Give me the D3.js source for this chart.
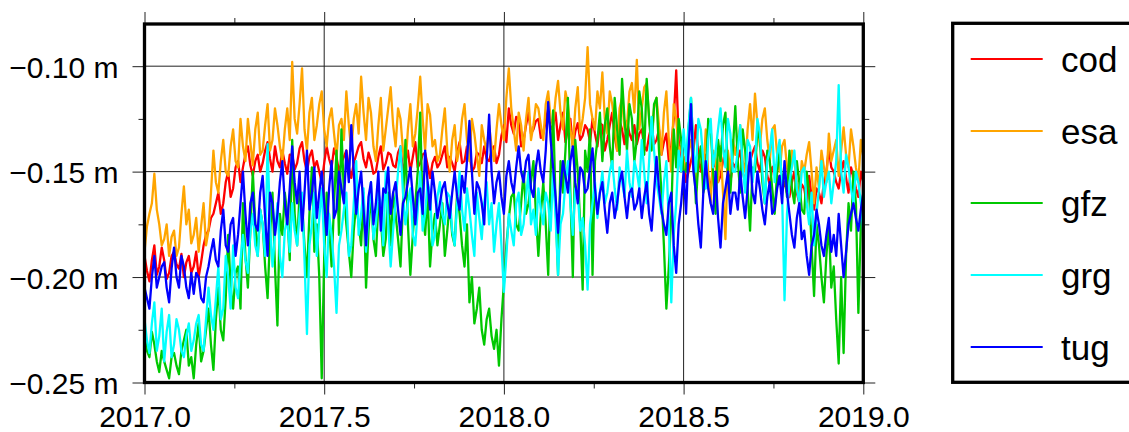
<!DOCTYPE html>
<html>
<head>
<meta charset="utf-8">
<script src="https://cdn.jsdelivr.net/npm/d3@7"></script>
<style>
  html, body { margin: 0; padding: 0; background: #fff; }
  svg { display: block; }
  text { font-family: "Liberation Sans", Arial, Helvetica, sans-serif; fill: #000; }
</style>
</head>
<body>
<svg id="chart" width="1129" height="432"></svg>
<script>
// ---- data, one value every 2.5 days from 2017.0 to 2019.0 ----
const startYear = 2017.0;
const stepDays = 2.5;

const seriesNames = ["cod", "esa", "gfz", "grg", "tug"];
const seriesColors = ["#ff0000", "#ffa500", "#00c800", "#00ffff", "#0000ff"];

const cod = [
  -0.190,-0.197,-0.202,-0.192,-0.185,-0.199,-0.195,-0.186,-0.192,-0.201,-0.198,-0.190,-0.188,-0.194,-0.196,-0.189,-0.200,-0.193,-0.190,-0.198,
  -0.195,-0.188,-0.200,-0.193,-0.185,-0.180,-0.178,-0.172,-0.170,-0.165,-0.160,-0.170,-0.165,-0.155,-0.150,-0.162,-0.158,-0.148,-0.145,-0.155,
  -0.148,-0.142,-0.138,-0.147,-0.152,-0.145,-0.142,-0.150,-0.146,-0.140,-0.136,-0.144,-0.150,-0.138,-0.145,-0.148,-0.140,-0.146,-0.151,-0.142,
  -0.142,-0.149,-0.146,-0.139,-0.136,-0.145,-0.150,-0.143,-0.140,-0.148,-0.145,-0.150,-0.155,-0.146,-0.138,-0.144,-0.148,-0.139,-0.143,-0.150,
  -0.146,-0.143,-0.140,-0.148,-0.153,-0.146,-0.142,-0.138,-0.136,-0.144,-0.148,-0.141,-0.145,-0.151,-0.150,-0.143,-0.138,-0.149,-0.146,-0.141,
  -0.142,-0.147,-0.148,-0.141,-0.138,-0.150,-0.145,-0.140,-0.150,-0.143,-0.136,-0.148,-0.146,-0.142,-0.141,-0.147,-0.153,-0.146,-0.143,-0.148,
  -0.146,-0.142,-0.138,-0.148,-0.143,-0.146,-0.150,-0.141,-0.136,-0.146,-0.145,-0.138,-0.140,-0.150,-0.148,-0.141,-0.142,-0.146,-0.138,-0.144,
  -0.145,-0.140,-0.138,-0.146,-0.142,-0.133,-0.128,-0.136,-0.120,-0.128,-0.132,-0.124,-0.125,-0.138,-0.135,-0.128,-0.122,-0.132,-0.130,-0.126,
  -0.125,-0.134,-0.132,-0.126,-0.120,-0.130,-0.128,-0.122,-0.135,-0.128,-0.122,-0.136,-0.130,-0.125,-0.138,-0.131,-0.127,-0.135,-0.133,-0.128,
  -0.130,-0.136,-0.125,-0.132,-0.138,-0.127,-0.128,-0.140,-0.135,-0.128,-0.122,-0.133,-0.140,-0.126,-0.130,-0.137,-0.126,-0.132,-0.135,-0.128,
  -0.137,-0.132,-0.130,-0.138,-0.140,-0.133,-0.128,-0.137,-0.135,-0.130,-0.142,-0.136,-0.132,-0.145,-0.138,-0.125,-0.102,-0.135,-0.150,-0.143,
  -0.155,-0.150,-0.145,-0.140,-0.128,-0.142,-0.150,-0.146,-0.142,-0.153,-0.158,-0.148,-0.146,-0.155,-0.152,-0.145,-0.140,-0.150,-0.155,-0.146,
  -0.148,-0.144,-0.140,-0.150,-0.155,-0.148,-0.145,-0.141,-0.138,-0.146,-0.150,-0.140,-0.143,-0.152,-0.156,-0.148,-0.147,-0.155,-0.152,-0.158,
  -0.155,-0.160,-0.162,-0.155,-0.150,-0.160,-0.165,-0.156,-0.158,-0.165,-0.152,-0.162,-0.168,-0.158,-0.160,-0.165,-0.155,-0.150,-0.139,-0.148,
  -0.150,-0.155,-0.158,-0.150,-0.145,-0.153,-0.160,-0.148,-0.152,-0.158,-0.162,-0.150,-0.155
];

const esa = [
  -0.188,-0.176,-0.170,-0.165,-0.151,-0.168,-0.175,-0.185,-0.182,-0.175,-0.190,-0.181,-0.178,-0.190,-0.186,-0.170,-0.157,-0.175,-0.168,-0.184,
  -0.180,-0.172,-0.188,-0.176,-0.165,-0.185,-0.178,-0.160,-0.140,-0.155,-0.160,-0.145,-0.135,-0.150,-0.152,-0.138,-0.130,-0.145,-0.148,-0.125,
  -0.138,-0.145,-0.125,-0.136,-0.147,-0.130,-0.122,-0.142,-0.140,-0.128,-0.118,-0.140,-0.135,-0.120,-0.128,-0.138,-0.145,-0.130,-0.120,-0.135,
  -0.098,-0.125,-0.132,-0.118,-0.101,-0.130,-0.140,-0.122,-0.115,-0.135,-0.128,-0.118,-0.112,-0.130,-0.138,-0.125,-0.120,-0.132,-0.143,-0.128,
  -0.125,-0.135,-0.112,-0.128,-0.140,-0.125,-0.118,-0.132,-0.105,-0.122,-0.135,-0.115,-0.122,-0.138,-0.145,-0.128,-0.115,-0.140,-0.130,-0.120,
  -0.110,-0.128,-0.138,-0.120,-0.125,-0.140,-0.148,-0.130,-0.118,-0.138,-0.132,-0.120,-0.105,-0.125,-0.140,-0.118,-0.123,-0.138,-0.135,-0.145,
  -0.142,-0.130,-0.120,-0.140,-0.150,-0.135,-0.128,-0.145,-0.138,-0.125,-0.118,-0.135,-0.145,-0.125,-0.132,-0.142,-0.152,-0.128,-0.135,-0.140,
  -0.128,-0.138,-0.145,-0.130,-0.118,-0.128,-0.135,-0.115,-0.101,-0.120,-0.130,-0.140,-0.122,-0.128,-0.140,-0.125,-0.115,-0.135,-0.128,-0.118,
  -0.120,-0.128,-0.135,-0.118,-0.112,-0.125,-0.128,-0.115,-0.107,-0.122,-0.130,-0.112,-0.118,-0.130,-0.138,-0.120,-0.110,-0.132,-0.125,-0.115,
  -0.091,-0.118,-0.125,-0.130,-0.112,-0.120,-0.103,-0.125,-0.132,-0.112,-0.118,-0.128,-0.140,-0.120,-0.115,-0.130,-0.128,-0.112,-0.108,-0.122,
  -0.097,-0.130,-0.120,-0.110,-0.108,-0.125,-0.135,-0.120,-0.115,-0.128,-0.142,-0.122,-0.112,-0.135,-0.150,-0.118,-0.125,-0.140,-0.138,-0.145,
  -0.150,-0.140,-0.135,-0.148,-0.158,-0.145,-0.140,-0.152,-0.130,-0.150,-0.165,-0.140,-0.145,-0.155,-0.138,-0.160,-0.182,-0.140,-0.150,-0.135,
  -0.142,-0.135,-0.128,-0.145,-0.150,-0.130,-0.118,-0.135,-0.113,-0.128,-0.138,-0.125,-0.120,-0.135,-0.145,-0.130,-0.128,-0.142,-0.150,-0.138,
  -0.135,-0.148,-0.155,-0.140,-0.145,-0.155,-0.162,-0.145,-0.150,-0.142,-0.136,-0.150,-0.165,-0.148,-0.158,-0.140,-0.148,-0.155,-0.132,-0.145,
  -0.140,-0.135,-0.152,-0.140,-0.129,-0.142,-0.148,-0.130,-0.138,-0.148,-0.155,-0.135,-0.143
];

const gfz = [
  -0.228,-0.235,-0.238,-0.226,-0.232,-0.240,-0.245,-0.235,-0.240,-0.244,-0.248,-0.238,-0.236,-0.242,-0.246,-0.235,-0.230,-0.225,-0.242,-0.238,
  -0.248,-0.232,-0.222,-0.240,-0.235,-0.225,-0.215,-0.232,-0.244,-0.220,-0.205,-0.225,-0.230,-0.210,-0.180,-0.205,-0.215,-0.198,-0.195,-0.215,
  -0.165,-0.190,-0.205,-0.178,-0.150,-0.175,-0.190,-0.168,-0.175,-0.195,-0.210,-0.180,-0.160,-0.195,-0.223,-0.170,-0.180,-0.160,-0.170,-0.192,
  -0.135,-0.170,-0.185,-0.160,-0.165,-0.185,-0.200,-0.170,-0.148,-0.188,-0.175,-0.200,-0.248,-0.190,-0.160,-0.175,-0.195,-0.165,-0.140,-0.180,
  -0.130,-0.160,-0.175,-0.188,-0.200,-0.178,-0.165,-0.175,-0.185,-0.160,-0.205,-0.178,-0.160,-0.182,-0.190,-0.165,-0.172,-0.190,-0.182,-0.160,
  -0.185,-0.160,-0.170,-0.182,-0.195,-0.165,-0.135,-0.175,-0.199,-0.180,-0.165,-0.150,-0.122,-0.170,-0.180,-0.160,-0.195,-0.178,-0.170,-0.185,
  -0.175,-0.165,-0.190,-0.178,-0.165,-0.180,-0.185,-0.160,-0.170,-0.185,-0.195,-0.175,-0.212,-0.200,-0.222,-0.215,-0.205,-0.225,-0.232,-0.220,
  -0.215,-0.228,-0.234,-0.225,-0.242,-0.220,-0.203,-0.185,-0.172,-0.162,-0.160,-0.175,-0.178,-0.165,-0.150,-0.170,-0.165,-0.155,-0.145,-0.170,
  -0.190,-0.170,-0.155,-0.175,-0.199,-0.150,-0.121,-0.165,-0.199,-0.145,-0.160,-0.140,-0.115,-0.160,-0.200,-0.135,-0.150,-0.175,-0.206,-0.140,
  -0.150,-0.130,-0.199,-0.145,-0.135,-0.122,-0.145,-0.128,-0.120,-0.138,-0.148,-0.115,-0.130,-0.142,-0.106,-0.125,-0.140,-0.118,-0.125,-0.145,
  -0.135,-0.112,-0.120,-0.142,-0.106,-0.125,-0.140,-0.118,-0.115,-0.140,-0.160,-0.185,-0.215,-0.195,-0.170,-0.130,-0.148,-0.125,-0.135,-0.150,
  -0.150,-0.130,-0.115,-0.140,-0.165,-0.145,-0.138,-0.160,-0.155,-0.125,-0.130,-0.150,-0.170,-0.135,-0.145,-0.128,-0.122,-0.150,-0.160,-0.140,
  -0.119,-0.145,-0.160,-0.130,-0.140,-0.158,-0.178,-0.148,-0.150,-0.130,-0.135,-0.155,-0.165,-0.140,-0.145,-0.158,-0.170,-0.150,-0.140,-0.155,
  -0.150,-0.162,-0.140,-0.158,-0.165,-0.145,-0.155,-0.168,-0.170,-0.150,-0.160,-0.185,-0.209,-0.175,-0.185,-0.200,-0.212,-0.190,-0.175,-0.205,
  -0.195,-0.220,-0.241,-0.200,-0.236,-0.190,-0.165,-0.178,-0.150,-0.165,-0.217,-0.175,-0.160
];

const grg = [
  -0.220,-0.230,-0.236,-0.222,-0.212,-0.235,-0.228,-0.215,-0.240,-0.226,-0.218,-0.238,-0.232,-0.220,-0.225,-0.235,-0.238,-0.228,-0.222,-0.235,
  -0.230,-0.222,-0.218,-0.232,-0.235,-0.220,-0.205,-0.218,-0.225,-0.210,-0.195,-0.220,-0.215,-0.190,-0.200,-0.215,-0.185,-0.205,-0.210,-0.192,
  -0.180,-0.192,-0.198,-0.178,-0.170,-0.185,-0.190,-0.168,-0.175,-0.190,-0.137,-0.175,-0.195,-0.180,-0.165,-0.190,-0.200,-0.178,-0.172,-0.188,
  -0.165,-0.178,-0.185,-0.170,-0.160,-0.192,-0.227,-0.185,-0.175,-0.160,-0.190,-0.172,-0.158,-0.185,-0.200,-0.170,-0.180,-0.195,-0.217,-0.185,
  -0.178,-0.168,-0.160,-0.190,-0.185,-0.165,-0.145,-0.180,-0.170,-0.158,-0.188,-0.170,-0.155,-0.182,-0.175,-0.160,-0.165,-0.185,-0.150,-0.175,
  -0.195,-0.178,-0.165,-0.150,-0.138,-0.160,-0.175,-0.165,-0.158,-0.180,-0.185,-0.168,-0.150,-0.178,-0.170,-0.155,-0.160,-0.185,-0.180,-0.162,
  -0.155,-0.170,-0.175,-0.160,-0.162,-0.178,-0.185,-0.165,-0.150,-0.168,-0.178,-0.158,-0.168,-0.180,-0.190,-0.160,-0.172,-0.182,-0.165,-0.155,
  -0.175,-0.165,-0.188,-0.175,-0.165,-0.185,-0.207,-0.190,-0.170,-0.178,-0.185,-0.165,-0.160,-0.180,-0.175,-0.162,-0.150,-0.175,-0.168,-0.180,
  -0.158,-0.168,-0.175,-0.160,-0.165,-0.178,-0.150,-0.172,-0.199,-0.175,-0.170,-0.155,-0.145,-0.165,-0.180,-0.158,-0.160,-0.178,-0.172,-0.185,
  -0.206,-0.175,-0.165,-0.155,-0.172,-0.160,-0.150,-0.165,-0.160,-0.150,-0.145,-0.158,-0.168,-0.148,-0.155,-0.162,-0.140,-0.155,-0.162,-0.145,
  -0.150,-0.158,-0.135,-0.150,-0.165,-0.145,-0.124,-0.140,-0.155,-0.162,-0.170,-0.155,-0.145,-0.175,-0.212,-0.180,-0.165,-0.140,-0.150,-0.130,
  -0.145,-0.128,-0.115,-0.140,-0.150,-0.125,-0.130,-0.145,-0.158,-0.135,-0.125,-0.148,-0.140,-0.130,-0.120,-0.138,-0.148,-0.125,-0.132,-0.150,
  -0.150,-0.140,-0.128,-0.148,-0.160,-0.135,-0.138,-0.155,-0.145,-0.125,-0.132,-0.150,-0.165,-0.145,-0.140,-0.130,-0.155,-0.142,-0.135,-0.160,
  -0.211,-0.170,-0.155,-0.148,-0.140,-0.158,-0.165,-0.150,-0.148,-0.165,-0.175,-0.160,-0.185,-0.170,-0.158,-0.145,-0.162,-0.155,-0.150,-0.165,
  -0.155,-0.145,-0.109,-0.150,-0.160,-0.142,-0.148,-0.158,-0.165,-0.150,-0.155,-0.165,-0.180
];

const tug = [
  -0.205,-0.210,-0.215,-0.200,-0.190,-0.205,-0.200,-0.195,-0.193,-0.205,-0.212,-0.196,-0.186,-0.200,-0.205,-0.190,-0.195,-0.205,-0.210,-0.198,
  -0.208,-0.198,-0.200,-0.210,-0.212,-0.200,-0.195,-0.188,-0.182,-0.192,-0.195,-0.178,-0.168,-0.185,-0.188,-0.175,-0.172,-0.190,-0.180,-0.165,
  -0.150,-0.170,-0.185,-0.165,-0.160,-0.175,-0.178,-0.160,-0.152,-0.172,-0.190,-0.160,-0.165,-0.180,-0.170,-0.155,-0.145,-0.165,-0.175,-0.158,
  -0.138,-0.155,-0.165,-0.150,-0.178,-0.160,-0.140,-0.168,-0.160,-0.148,-0.172,-0.160,-0.150,-0.165,-0.180,-0.158,-0.145,-0.172,-0.168,-0.150,
  -0.158,-0.165,-0.140,-0.155,-0.128,-0.150,-0.170,-0.158,-0.150,-0.168,-0.185,-0.162,-0.155,-0.175,-0.165,-0.150,-0.178,-0.158,-0.160,-0.148,
  -0.170,-0.160,-0.155,-0.168,-0.180,-0.165,-0.162,-0.155,-0.148,-0.162,-0.175,-0.160,-0.158,-0.170,-0.140,-0.155,-0.168,-0.150,-0.160,-0.172,
  -0.165,-0.158,-0.155,-0.165,-0.172,-0.160,-0.150,-0.162,-0.168,-0.152,-0.160,-0.145,-0.126,-0.150,-0.170,-0.155,-0.158,-0.165,-0.175,-0.145,
  -0.123,-0.150,-0.165,-0.155,-0.150,-0.162,-0.170,-0.152,-0.145,-0.155,-0.160,-0.148,-0.138,-0.150,-0.155,-0.145,-0.142,-0.158,-0.162,-0.148,
  -0.140,-0.150,-0.155,-0.140,-0.117,-0.135,-0.148,-0.162,-0.179,-0.158,-0.145,-0.152,-0.160,-0.145,-0.138,-0.155,-0.165,-0.148,-0.150,-0.160,
  -0.158,-0.148,-0.139,-0.158,-0.170,-0.160,-0.155,-0.168,-0.179,-0.165,-0.160,-0.172,-0.165,-0.155,-0.150,-0.162,-0.172,-0.160,-0.158,-0.168,
  -0.165,-0.158,-0.172,-0.162,-0.155,-0.170,-0.178,-0.160,-0.143,-0.158,-0.168,-0.175,-0.180,-0.165,-0.160,-0.185,-0.198,-0.175,-0.165,-0.150,
  -0.170,-0.140,-0.118,-0.150,-0.160,-0.175,-0.186,-0.160,-0.145,-0.158,-0.165,-0.170,-0.150,-0.172,-0.186,-0.165,-0.158,-0.150,-0.170,-0.160,
  -0.160,-0.168,-0.150,-0.162,-0.172,-0.158,-0.141,-0.160,-0.165,-0.150,-0.158,-0.168,-0.175,-0.162,-0.155,-0.170,-0.168,-0.158,-0.152,-0.165,
  -0.145,-0.160,-0.170,-0.180,-0.186,-0.172,-0.165,-0.182,-0.178,-0.190,-0.199,-0.185,-0.180,-0.168,-0.175,-0.185,-0.190,-0.180,-0.172,-0.188,
  -0.180,-0.190,-0.170,-0.185,-0.200,-0.188,-0.175,-0.170,-0.165,-0.172,-0.178,-0.168,-0.160
];

const seriesValues = [cod, esa, gfz, grg, tug];

const xMajorTicks = [2017.0, 2017.5, 2018.0, 2018.5, 2019.0];
const xMinorTicks = [2017.25, 2017.75, 2018.25, 2018.75];
const yMajorTicks = [-0.25, -0.20, -0.15, -0.10];
const yMinorTicks = [-0.225, -0.175, -0.125];
const yDomain = [-0.25, -0.08];
const xDomain = [2017.0, 2019.0];

// ---- layout ----
const pLeft = 144.5, pRight = 863.3, pTop = 24, pBottom = 382.5;
const svg = d3.select("#chart");
const x = d3.scaleLinear().domain(xDomain).range([pLeft, pRight]);
const y = d3.scaleLinear().domain(yDomain).range([pBottom, pTop]);
const fontFamily = '"Liberation Sans", Arial, Helvetica, sans-serif';

// gridlines
const grid = svg.append("g").attr("stroke", "#222").attr("stroke-width", 1);
grid.selectAll("line.gy").data(yMajorTicks).join("line")
  .attr("x1", pLeft).attr("x2", pRight)
  .attr("y1", d => y(d)).attr("y2", d => y(d));
grid.selectAll("line.gx").data(xMajorTicks).join("line")
  .attr("y1", pTop).attr("y2", pBottom)
  .attr("x1", d => x(d)).attr("x2", d => x(d));

// series
const line = d3.line()
  .x((d, i) => x(startYear + i * stepDays / 365))
  .y(d => y(d));
svg.append("defs").append("clipPath").attr("id", "clip")
  .append("rect").attr("x", pLeft).attr("y", pTop).attr("width", pRight - pLeft).attr("height", pBottom - pTop);
const plot = svg.append("g").attr("clip-path", "url(#clip)");
seriesValues.forEach((vals, k) => {
  plot.append("path")
    .datum(vals)
    .attr("fill", "none")
    .attr("stroke", seriesColors[k])
    .attr("stroke-width", 2.3)
    .attr("stroke-linejoin", "round")
    .attr("d", line);
});

// axes
function styleAxis(g) {
  g.select(".domain").remove();
  g.selectAll(".tick line").attr("stroke", "#222").attr("stroke-width", 1);
  g.selectAll("text").attr("font-family", fontFamily).attr("font-size", 30).attr("fill", "#000");
}
const yFmt = d => d3.format(".2f")(d) + " m";

svg.append("g").attr("transform", `translate(${pLeft},0)`)
  .call(d3.axisLeft(y).tickValues(yMajorTicks).tickSize(12).tickPadding(14).tickFormat(yFmt))
  .call(styleAxis)
  .call(g => g.selectAll("text").attr("dy", "0.37em"));
svg.append("g").attr("transform", `translate(${pLeft},0)`)
  .call(d3.axisLeft(y).tickValues(yMinorTicks).tickSize(6).tickFormat(""))
  .call(styleAxis);
svg.append("g").attr("transform", `translate(${pRight},0)`)
  .call(d3.axisRight(y).tickValues(yMajorTicks).tickSize(12).tickFormat(""))
  .call(styleAxis);
svg.append("g").attr("transform", `translate(${pRight},0)`)
  .call(d3.axisRight(y).tickValues(yMinorTicks).tickSize(6).tickFormat(""))
  .call(styleAxis);

svg.append("g").attr("transform", `translate(0,${pBottom})`)
  .call(d3.axisBottom(x).tickValues(xMajorTicks).tickSize(12).tickFormat(d3.format(".1f")))
  .call(styleAxis)
  .call(g => g.selectAll("text").attr("y", 44).attr("dy", null));
svg.append("g").attr("transform", `translate(0,${pBottom})`)
  .call(d3.axisBottom(x).tickValues(xMinorTicks).tickSize(6).tickFormat(""))
  .call(styleAxis);
svg.append("g").attr("transform", `translate(0,${pTop})`)
  .call(d3.axisTop(x).tickValues(xMajorTicks).tickSize(12).tickFormat(""))
  .call(styleAxis);
svg.append("g").attr("transform", `translate(0,${pTop})`)
  .call(d3.axisTop(x).tickValues(xMinorTicks).tickSize(6).tickFormat(""))
  .call(styleAxis);

// frame
svg.append("rect")
  .attr("x", pLeft).attr("y", pTop)
  .attr("width", pRight - pLeft).attr("height", pBottom - pTop)
  .attr("fill", "none").attr("stroke", "#000").attr("stroke-width", 3.3);

// legend
const legX = 952.7, legTop = 23.3, legBottom = 382.3;
svg.append("rect")
  .attr("x", legX).attr("y", legTop)
  .attr("width", 200).attr("height", legBottom - legTop)
  .attr("fill", "#fff").attr("stroke", "#000").attr("stroke-width", 3.3);
const legY = d3.scalePoint().domain(seriesNames).range([59, 347]);
const leg = svg.append("g");
seriesNames.forEach((name, k) => {
  leg.append("line")
    .attr("x1", 970.7).attr("x2", 1042.7)
    .attr("y1", legY(name)).attr("y2", legY(name))
    .attr("stroke", seriesColors[k]).attr("stroke-width", 2);
  leg.append("text")
    .attr("x", 1061).attr("y", legY(name) + 12.7)
    .attr("font-size", 35).attr("font-family", fontFamily)
    .text(name);
});
</script>
</body>
</html>
